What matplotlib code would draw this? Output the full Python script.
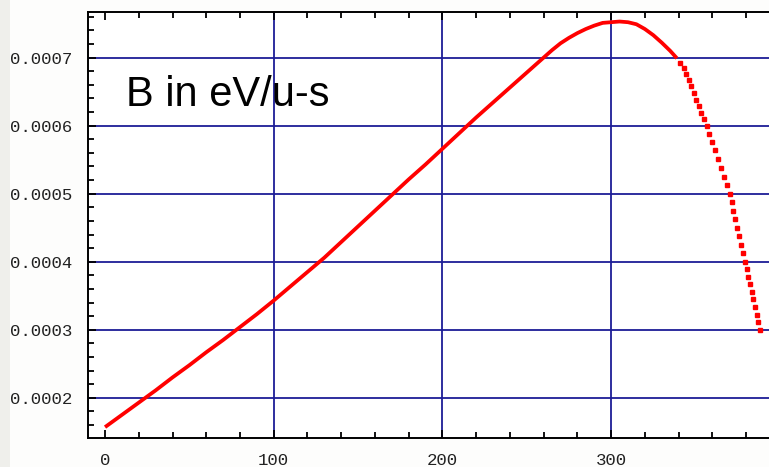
import matplotlib.pyplot as plt
from matplotlib.ticker import MultipleLocator, FuncFormatter
from matplotlib.patches import Rectangle

# rising branch of B (drawn as a continuous line)
rise_x = [0, 10, 20, 30, 40, 50, 60, 70, 80, 90, 100, 110, 120, 130, 140,
          150, 160, 170, 180, 190, 200, 210, 220, 230, 240, 250, 255, 260,
          265, 270, 275, 280, 285, 290, 295, 300, 305, 310, 315, 320, 325,
          330, 335, 339]
rise_b = [0.000157, 0.000175, 0.000193, 0.000211, 0.000230, 0.000248,
          0.000267, 0.000285, 0.000304, 0.000323, 0.000343, 0.000364,
          0.000385, 0.000406, 0.000429, 0.000452, 0.000475, 0.000498,
          0.000521, 0.000543, 0.000566, 0.000589, 0.000612, 0.000634,
          0.000656, 0.000678, 0.000689, 0.000700, 0.000711, 0.000721,
          0.000729, 0.000736, 0.000742, 0.000747, 0.000751, 0.000752,
          0.000753, 0.000752, 0.000749, 0.000742, 0.000733, 0.000722,
          0.000710, 0.000699]

# falling branch, sampled points shown as dots
fall_x = [341, 343, 344.5, 346, 347.5, 349, 350.5, 352, 353.5, 355, 356.6,
          358.2, 359.9, 361.6, 363.3, 365.0, 366.8, 368.5, 370.3,
          371.4, 372.5, 373.7, 374.8, 375.9, 377.1, 378.2, 379.4,
          380.4, 381.4, 382.4, 383.4, 384.4, 385.3, 386.3, 387.3, 388.3]
fall_b = [0.000692, 0.000684, 0.000676, 0.000667, 0.000658, 0.000648,
          0.000638, 0.000629, 0.000619, 0.000610, 0.000600,
          0.000588, 0.000576, 0.000564, 0.000551, 0.000538, 0.000525,
          0.000513, 0.000500,
          0.000488, 0.000475, 0.000463, 0.000450, 0.000438, 0.000425,
          0.000413, 0.000400,
          0.000389, 0.000378, 0.000367, 0.000356, 0.000345, 0.000333,
          0.000322, 0.000311, 0.000300]

x_grid = [100, 200, 300]
b_grid = [0.0002, 0.0003, 0.0004, 0.0005, 0.0006, 0.0007]

W, H = 769, 467
fig = plt.figure(figsize=(W / 100, H / 100), dpi=100)
fig.patch.set_facecolor('#fdfdfc')
fig.patches.append(Rectangle((0, 0), 10 / W, 1, transform=fig.transFigure,
                             facecolor='#efefeb', edgecolor='none', zorder=0))

# axes runs off the right-hand edge, so no right spine
ax = fig.add_axes([88 / W, (H - 438) / H, (W - 88) / W, (438 - 12) / H])
ax.set_facecolor('white')
ax.set_xlim(-10.1, 393.6)
ax.set_ylim(0.000141, 0.000767)
ax.spines['right'].set_visible(False)
for s in ['left', 'bottom', 'top']:
    ax.spines[s].set_linewidth(1.4)
    ax.spines[s].set_color('black')

grid_col = '#1c1c96'
for gx in x_grid:
    ax.axvline(gx, color=grid_col, lw=1.3, zorder=1)
for gb in b_grid:
    ax.axhline(gb, color=grid_col, lw=1.3, zorder=1)

ax.plot(rise_x, rise_b, color='red', lw=2.7, solid_capstyle='butt',
        solid_joinstyle='round', zorder=3)
ax.plot(fall_x, fall_b, ls='none', marker='s', ms=2.2, mec='red', mfc='red',
        zorder=3)

ax.xaxis.set_major_locator(MultipleLocator(100))
ax.xaxis.set_minor_locator(MultipleLocator(20))
ax.yaxis.set_major_locator(MultipleLocator(0.0001))
ax.yaxis.set_minor_locator(MultipleLocator(0.00002))
ax.yaxis.set_major_formatter(FuncFormatter(lambda v, p: f'{v:.4f}'))
ax.tick_params(which='both', direction='in', top=True, right=False,
               color='black', width=1.3)
ax.tick_params(which='major', length=6)
ax.tick_params(which='minor', length=4)
ax.tick_params(axis='y', pad=11)
ax.tick_params(axis='x', pad=11)
for lab in ax.get_xticklabels() + ax.get_yticklabels():
    lab.set_fontfamily('Liberation Mono')
    lab.set_fontsize(12.5)
    lab.set_color('#222222')

fig.text(126 / W, 1 - 106 / H, 'B in eV/u-s', fontsize=30,
         family='Liberation Sans', color='black', va='baseline', ha='left')

fig.savefig('out.png', dpi=100, facecolor=fig.get_facecolor())
